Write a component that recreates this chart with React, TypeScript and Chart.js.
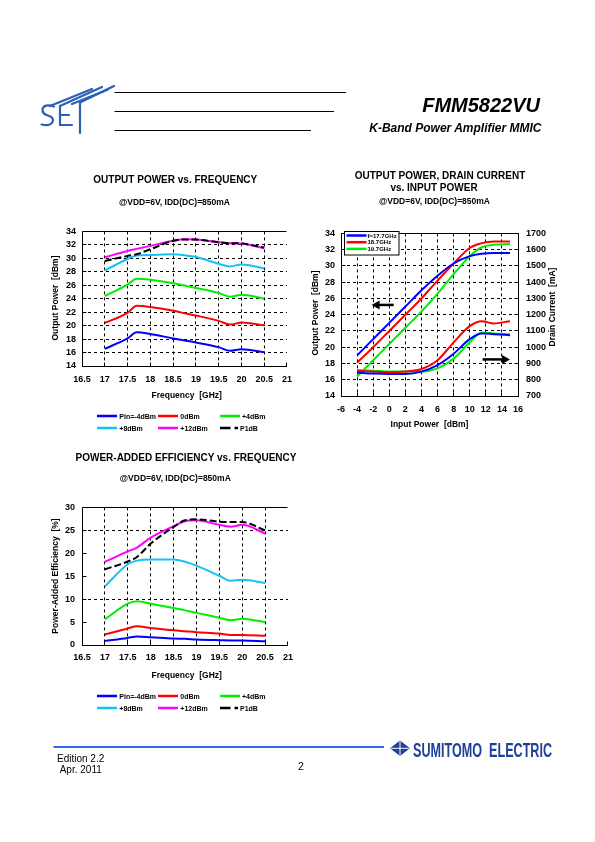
import React, { useEffect, useRef } from 'react';
import { Chart, registerables } from 'chart.js';

Chart.register(...registerables);

const FONT = '"Liberation Sans", Arial, Helvetica, sans-serif';
const BLUE = '#0000ff';
const RED = '#ff0000';
const GREEN = '#00ee00';
const CYAN = '#11c4f5';
const MAGENTA = '#ff00ff';
const BLACK = '#000000';

// ---------- Output power vs frequency ----------
const FREQ = [17, 17.5, 17.7, 18, 18.5, 18.75, 19, 19.5, 19.75, 20, 20.5];
const POUT_M4 = [16.55, 18.1, 19.0, 18.75, 18.1, 17.8, 17.5, 16.8, 16.25, 16.5, 16.05];
const POUT_0 = [20.4, 21.9, 22.95, 22.75, 22.2, 21.85, 21.5, 20.7, 20.15, 20.45, 20.05];
const POUT_4 = [24.4, 26.1, 26.95, 26.8, 26.3, 25.95, 25.6, 24.85, 24.3, 24.6, 24.0];
const POUT_8 = [28.2, 29.9, 30.4, 30.5, 30.6, 30.45, 30.2, 29.2, 28.8, 29.1, 28.5];
const POUT_12 = [30.15, 31.1, 31.4, 31.85, 32.6, 32.83, 32.78, 32.4, 32.25, 32.2, 31.5];
const POUT_P1DB = [29.6, 30.35, 30.6, 31.35, 32.6, 32.8, 32.78, 32.4, 32.25, 32.2, 31.6];

// ---------- PAE vs frequency ----------
const PAE_M4 = [0.9, 1.55, 1.85, 1.7, 1.4, 1.35, 1.2, 1.05, 1.0, 1.0, 0.8];
const PAE_0 = [2.3, 3.6, 4.1, 3.7, 3.2, 3.0, 2.8, 2.5, 2.2, 2.2, 2.0];
const PAE_4 = [5.6, 9.0, 9.55, 9.0, 8.05, 7.55, 7.0, 5.95, 5.4, 5.75, 5.0];
const PAE_8 = [12.8, 17.6, 18.4, 18.65, 18.65, 18.15, 17.3, 15.1, 14.0, 14.2, 13.5];
const PAE_12 = [18.15, 20.4, 21.25, 23.4, 25.9, 27.0, 27.2, 26.2, 25.8, 26.2, 24.3];
const PAE_P1DB = [16.5, 18.2, 19.2, 22.1, 25.7, 27.2, 27.4, 26.9, 26.8, 26.8, 25.0];

// ---------- Output power / drain current vs input power ----------
const PIN = [-4, -2, 0, 2, 4, 6, 8, 10, 11.5, 13, 15];
const POUT_17_7 = [19.0, 21.0, 23.0, 25.0, 27.0, 28.8, 30.3, 31.2, 31.5, 31.6, 31.6];
const POUT_18_7 = [18.1, 20.0, 22.0, 24.0, 26.0, 28.2, 30.3, 32.2, 32.8, 33.0, 33.0];
const POUT_19_7 = [16.4, 18.4, 20.4, 22.4, 24.4, 26.6, 29.0, 31.2, 32.3, 32.6, 32.7];
const ID_17_7 = [844, 838, 836, 836, 850, 890, 960, 1050, 1085, 1080, 1074];
const ID_18_7 = [856, 850, 846, 850, 866, 920, 1030, 1130, 1160, 1146, 1160];
const ID_19_7 = [860, 856, 850, 850, 850, 870, 930, 1030, 1090, 1084, 1080];

// axes
const FREQ_AXIS = { min: 16.5, max: 21, step: 0.5 };
const POUT_AXIS = { min: 14, max: 34, step: 2 };
const PAE_AXIS = { min: 0, max: 30, step: 5 };
const PAE_GRID = [10, 25];
const PIN_AXIS = { min: -6, max: 16, step: 2 };
const ID_AXIS = { min: 700, max: 1700, step: 100 };

// arrows (data units: [x, y] tail -> head)
const ARROW_POUT = { from: [0.55, 25.2], to: [-2.2, 25.2] };
const ARROW_ID = { from: [11.6, 18.5], to: [15.0, 18.5] };

const SERIES_LABELS = ['Pin=-4dBm', '0dBm', '+4dBm', '+8dBm', '+12dBm', 'P1dB'];
const SERIES_COLORS = [BLUE, RED, GREEN, CYAN, MAGENTA, BLACK];
const FREQ_LABELS = ['f=17.7GHz', '18.7GHz', '19.7GHz'];
const FREQ_COLORS = [BLUE, RED, GREEN];

const align = (p: number) => Math.round(p - 0.5) + 0.5;

function drawArrow(ctx: CanvasRenderingContext2D, x1: number, y1: number, x2: number, y2: number) {
  const ang = Math.atan2(y2 - y1, x2 - x1);
  const hl = 8;
  const hw = 4.5;
  const bx = x2 - hl * Math.cos(ang);
  const by = y2 - hl * Math.sin(ang);
  ctx.lineWidth = 2.5;
  ctx.beginPath();
  ctx.moveTo(x1, y1);
  ctx.lineTo(bx + Math.cos(ang), by);
  ctx.stroke();
  ctx.beginPath();
  ctx.moveTo(x2, y2);
  ctx.lineTo(bx - hw * Math.sin(ang), by + hw * Math.cos(ang));
  ctx.lineTo(bx + hw * Math.sin(ang), by - hw * Math.cos(ang));
  ctx.closePath();
  ctx.fill();
}

function makeFramePlugin(right: boolean, arrows: { from: number[]; to: number[] }[]) {
  return {
    id: 'frameTicks',
    beforeDatasetsDraw(chart: any) {
      const { ctx, chartArea: a, scales } = chart;
      const L = align(a.left);
      const R = align(a.right);
      const T = align(a.top);
      const B = align(a.bottom);
      ctx.save();
      ctx.setLineDash([]);
      ctx.strokeStyle = '#000';
      ctx.lineWidth = 1;
      ctx.beginPath();
      ctx.moveTo(L, T);
      ctx.lineTo(L, B);
      ctx.moveTo(L, T);
      ctx.lineTo(R, T);
      ctx.moveTo(L - 0.5, B);
      ctx.lineTo(R + 0.5, B);
      if (right) {
        ctx.moveTo(R, T);
        ctx.lineTo(R, B);
      }
      const TL = 4;
      scales.y.ticks.forEach((t: any) => {
        const py = align(scales.y.getPixelForValue(t.value));
        ctx.moveTo(L, py);
        ctx.lineTo(L + TL, py);
      });
      scales.x.ticks.forEach((t: any) => {
        const px = align(scales.x.getPixelForValue(t.value));
        ctx.moveTo(px, B);
        ctx.lineTo(px, B - TL);
      });
      if (scales.y1) {
        scales.y1.ticks.forEach((t: any) => {
          const py = align(scales.y1.getPixelForValue(t.value));
          ctx.moveTo(R - TL, py);
          ctx.lineTo(R, py);
        });
      }
      ctx.stroke();
      ctx.restore();
    },
    afterDatasetsDraw(chart: any) {
      const { ctx, scales } = chart;
      ctx.save();
      ctx.setLineDash([]);
      ctx.strokeStyle = '#000';
      ctx.fillStyle = '#000';
      arrows.forEach((ar) => {
        drawArrow(
          ctx,
          scales.x.getPixelForValue(ar.from[0]),
          scales.y.getPixelForValue(ar.from[1]),
          scales.x.getPixelForValue(ar.to[0]),
          scales.y.getPixelForValue(ar.to[1])
        );
      });
      ctx.restore();
    },
  };
}

function lineDs(label: string, xs: number[], ys: number[], color: string, extra: any = {}) {
  return {
    label,
    data: xs.map((x, i) => ({ x, y: ys[i] })),
    borderColor: color,
    backgroundColor: color,
    borderWidth: 2,
    pointRadius: 0,
    cubicInterpolationMode: 'monotone',
    fill: false,
    ...extra,
  };
}

const TICK_FONT = { family: FONT, size: 9, weight: 'bold' as const };

function linAxis(
  ax: { min: number; max: number; step: number },
  opts: { padding: number; grid?: (v: number) => boolean; size: number; horizontal: boolean; position?: string }
) {
  const showGrid = opts.grid || ((v: number) => v !== ax.min && v !== ax.max);
  return {
    type: 'linear',
    position: opts.position,
    min: ax.min,
    max: ax.max,
    ticks: {
      stepSize: ax.step,
      padding: opts.padding,
      font: TICK_FONT,
      color: '#000',
      autoSkip: false,
      maxRotation: 0,
      minRotation: 0,
      callback: (v: any) => String(v),
    },
    grid: {
      display: true,
      drawTicks: false,
      lineWidth: 1,
      color: (c: any) => (c.tick && showGrid(c.tick.value) ? '#000' : 'rgba(0,0,0,0)'),
      borderDash: [3, 3],
    },
    border: { display: false, dash: [3, 3] },
    afterFit: (s: any) => {
      if (opts.horizontal) s.height = opts.size;
      else s.width = opts.size;
    },
  };
}

function ChartCanvas({ left, top, width, height, build }: any) {
  const ref = useRef<HTMLCanvasElement>(null);
  useEffect(() => {
    const chart = new Chart(ref.current as HTMLCanvasElement, build());
    return () => chart.destroy();
  }, []);
  return (
    <canvas
      ref={ref}
      width={width}
      height={height}
      style={{ position: 'absolute', left, top, width, height }}
    />
  );
}

const baseOptions = (padding: any) => ({
  animation: false,
  responsive: false,
  devicePixelRatio: 1,
  layout: { padding },
  plugins: { legend: { display: false }, tooltip: { enabled: false }, title: { display: false } },
});

function freqDatasets(vals: number[][]) {
  const [m4, z, p4, p8, p12, p1] = vals;
  return [
    lineDs(SERIES_LABELS[5], FREQ, p1, BLACK, { borderDash: [7, 3], order: 0 }),
    lineDs(SERIES_LABELS[4], FREQ, p12, MAGENTA, { order: 1 }),
    lineDs(SERIES_LABELS[3], FREQ, p8, CYAN, { order: 2 }),
    lineDs(SERIES_LABELS[2], FREQ, p4, GREEN, { order: 3 }),
    lineDs(SERIES_LABELS[1], FREQ, z, RED, { order: 4 }),
    lineDs(SERIES_LABELS[0], FREQ, m4, BLUE, { order: 5 }),
  ];
}

const buildChart1 = () => ({
  type: 'line',
  data: { datasets: freqDatasets([POUT_M4, POUT_0, POUT_4, POUT_8, POUT_12, POUT_P1DB]) },
  options: {
    ...baseOptions({ top: 9, right: 8, left: 0, bottom: 0 }),
    scales: {
      x: linAxis(FREQ_AXIS, { padding: 8, size: 24, horizontal: true }),
      y: linAxis(POUT_AXIS, { padding: 6, size: 52, horizontal: false }),
    },
  },
  plugins: [makeFramePlugin(false, [])],
});

const buildChart3 = () => ({
  type: 'line',
  data: { datasets: freqDatasets([PAE_M4, PAE_0, PAE_4, PAE_8, PAE_12, PAE_P1DB]) },
  options: {
    ...baseOptions({ top: 11, right: 8, left: 0, bottom: 0 }),
    scales: {
      x: linAxis(FREQ_AXIS, { padding: 7, size: 20, horizontal: true }),
      y: linAxis(PAE_AXIS, {
        padding: 7,
        size: 52,
        horizontal: false,
        grid: (v: number) => PAE_GRID.includes(v),
      }),
    },
  },
  plugins: [makeFramePlugin(false, [])],
});

const buildChart2 = () => {
  const y1 = linAxis(ID_AXIS, { padding: 8, size: 62, horizontal: false, position: 'right' });
  (y1 as any).grid = { display: false, drawTicks: false };
  return {
    type: 'line',
    data: {
      datasets: [
        lineDs(FREQ_LABELS[0], PIN, POUT_17_7, BLUE, { yAxisID: 'y', order: 0 }),
        lineDs(FREQ_LABELS[1], PIN, POUT_18_7, RED, { yAxisID: 'y', order: 1 }),
        lineDs(FREQ_LABELS[2], PIN, POUT_19_7, GREEN, { yAxisID: 'y', order: 2 }),
        lineDs(FREQ_LABELS[0], PIN, ID_17_7, BLUE, { yAxisID: 'y1', order: 0 }),
        lineDs(FREQ_LABELS[1], PIN, ID_18_7, RED, { yAxisID: 'y1', order: 1 }),
        lineDs(FREQ_LABELS[2], PIN, ID_19_7, GREEN, { yAxisID: 'y1', order: 2 }),
      ],
    },
    options: {
      ...baseOptions({ top: 10, right: 0, left: 0, bottom: 0 }),
      scales: {
        x: linAxis(PIN_AXIS, { padding: 8, size: 24, horizontal: true }),
        y: linAxis(POUT_AXIS, { padding: 6, size: 41, horizontal: false, position: 'left' }),
        y1,
      },
    },
    plugins: [makeFramePlugin(true, [ARROW_POUT, ARROW_ID])],
  };
};

// ---------- text helpers ----------
function Txt({
  x,
  y,
  size,
  children,
  bold = true,
  italic = false,
  anchor = 'middle',
  rotate = 0,
  color = '#000',
  scaleX = 1,
}: any) {
  const tx = anchor === 'middle' ? '-50%' : anchor === 'end' ? '-100%' : '0';
  return (
    <div
      style={{
        position: 'absolute',
        left: x,
        top: y,
        transform: `translate(${tx},-50%) rotate(${rotate}deg) scaleX(${scaleX})`,
        transformOrigin: scaleX !== 1 ? 'left center' : 'center center',
        fontFamily: FONT,
        fontSize: size,
        fontWeight: bold ? 'bold' : 'normal',
        fontStyle: italic ? 'italic' : 'normal',
        whiteSpace: 'pre',
        lineHeight: 1,
        color,
      }}
    >
      {children}
    </div>
  );
}

const LEG_COLS = [97.3, 158.3, 220];

function BottomLegend({ y1, y2 }: { y1: number; y2: number }) {
  const rows = [y1, y2];
  return (
    <>
      {SERIES_LABELS.map((lab, i) => {
        const col = LEG_COLS[i % 3];
        const y = rows[Math.floor(i / 3)];
        const isP1 = i === 5;
        return (
          <React.Fragment key={lab}>
            <svg
              style={{ position: 'absolute', left: col, top: y - 3, overflow: 'visible' }}
              width={22}
              height={6}
            >
              <line
                x1={0}
                y1={3}
                x2={isP1 ? 18 : 20}
                y2={3}
                stroke={SERIES_COLORS[i]}
                strokeWidth={2.5}
                strokeDasharray={isP1 ? '10.5 4 3.5 10' : undefined}
              />
            </svg>
            <Txt x={col + (isP1 ? 20 : 22)} y={y} size={7} anchor="start">
              {lab}
            </Txt>
          </React.Fragment>
        );
      })}
    </>
  );
}

export default function App() {
  return (
    <div style={{ position: 'absolute', left: 0, top: 0, width: 595, height: 842, background: '#fff' }}>
      <ChartCanvas left={30} top={220} width={270} height={170} build={buildChart1} />
      <ChartCanvas left={300} top={220} width={280} height={200} build={buildChart2} />
      <ChartCanvas left={30} top={495} width={270} height={170} build={buildChart3} />

      {/* graphics overlay */}
      <svg
        style={{ position: 'absolute', left: 0, top: 0, pointerEvents: 'none' }}
        width={595}
        height={842}
      >
        {/* header rules */}
        <line x1={114.5} y1={92.5} x2={346} y2={92.5} stroke="#000" strokeWidth={1} />
        <line x1={114.5} y1={111.5} x2={334} y2={111.5} stroke="#000" strokeWidth={1} />
        <line x1={114.5} y1={130.5} x2={311} y2={130.5} stroke="#000" strokeWidth={1} />
        {/* SET logo */}
        <g stroke="#2b5fb8" strokeWidth={2.2} fill="none" strokeLinecap="round">
          <path d="M 54 106.5 Q 44 103.5 42.5 109 Q 42 114 48 115.5 Q 54.5 117.5 52.5 122 Q 50 126.5 41.5 124.5" />
          <path d="M 60 106 L 60 125 L 72 125" />
          <path d="M 60 115 L 69 115" />
          <path d="M 80 102.5 L 80 133" />
          <path d="M 50 106 L 92 89" />
          <path d="M 60 106 L 102 87" />
          <path d="M 72 104 L 108 89.5" />
          <path d="M 80 102.5 L 114 86" />
        </g>
        {/* chart 2 legend box */}
        <rect x={344.5} y={231.5} width={54.5} height={23.5} fill="#fff" stroke="#000" strokeWidth={1} />
        {FREQ_COLORS.map((c, i) => (
          <line key={c} x1={346.5} y1={235.5 + i * 6.7} x2={366.5} y2={235.5 + i * 6.7} stroke={c} strokeWidth={2.5} />
        ))}
        {/* footer */}
        <line x1={53.6} y1={747} x2={384} y2={747} stroke="#3366ee" strokeWidth={2} />
        <path d="M 390 748.3 L 400 740.5 L 410 748.3 L 400 756 Z" fill="#1f3f99" />
        <line x1={391} y1={748.3} x2={409} y2={748.3} stroke="#fff" strokeWidth={1} />
        <line x1={400} y1={741} x2={400} y2={755.5} stroke="#fff" strokeWidth={1} />
      </svg>

      {/* header text */}
      <Txt x={540} y={104.5} size={20} italic anchor="end">
        FMM5822VU
      </Txt>
      <Txt x={541.5} y={127.5} size={12} italic anchor="end">
        K-Band Power Amplifier MMIC
      </Txt>

      {/* chart 1 text */}
      <Txt x={175.3} y={180} size={10}>OUTPUT POWER vs. FREQUENCY</Txt>
      <Txt x={174.5} y={202.3} size={8.5}>@VDD=6V, IDD(DC)=850mA</Txt>
      <Txt x={55} y={297.5} size={8.5} rotate={-90}>Output Power  [dBm]</Txt>
      <Txt x={186.7} y={395} size={8.5}>Frequency  [GHz]</Txt>
      <BottomLegend y1={415.7} y2={428.3} />

      {/* chart 2 text */}
      <Txt x={440} y={175.7} size={10}>OUTPUT POWER, DRAIN CURRENT</Txt>
      <Txt x={434} y={187.7} size={10}>vs. INPUT POWER</Txt>
      <Txt x={434.5} y={201} size={8.5}>@VDD=6V, IDD(DC)=850mA</Txt>
      <Txt x={315} y={313} size={8.5} rotate={-90}>Output Power  [dBm]</Txt>
      <Txt x={552} y={307} size={8.5} rotate={-90}>Drain Current  [mA]</Txt>
      <Txt x={429.5} y={424.3} size={8.5}>Input Power  [dBm]</Txt>
      {FREQ_LABELS.map((lab, i) => (
        <Txt key={lab} x={367.5} y={235.5 + i * 6.7} size={6} anchor="start">
          {lab}
        </Txt>
      ))}

      {/* chart 3 text */}
      <Txt x={186} y={457.7} size={10}>POWER-ADDED EFFICIENCY vs. FREQUENCY</Txt>
      <Txt x={175.3} y={478.3} size={8.5}>@VDD=6V, IDD(DC)=850mA</Txt>
      <Txt x={55} y={575.5} size={8.5} rotate={-90}>Power-Added Efficiency  [%]</Txt>
      <Txt x={186.7} y={675} size={8.5}>Frequency  [GHz]</Txt>
      <BottomLegend y1={695.7} y2={708.3} />

      {/* footer text */}
      <Txt x={413} y={748.5} size={21} color="#1f3f99" anchor="start" scaleX={0.6}>
        SUMITOMO  ELECTRIC
      </Txt>
      <Txt x={57} y={758.7} size={10} bold={false} anchor="start">
        Edition 2.2
      </Txt>
      <Txt x={59.7} y={770} size={10} bold={false} anchor="start">
        Apr. 2011
      </Txt>
      <Txt x={301} y={766} size={10.5} bold={false}>
        2
      </Txt>
    </div>
  );
}
